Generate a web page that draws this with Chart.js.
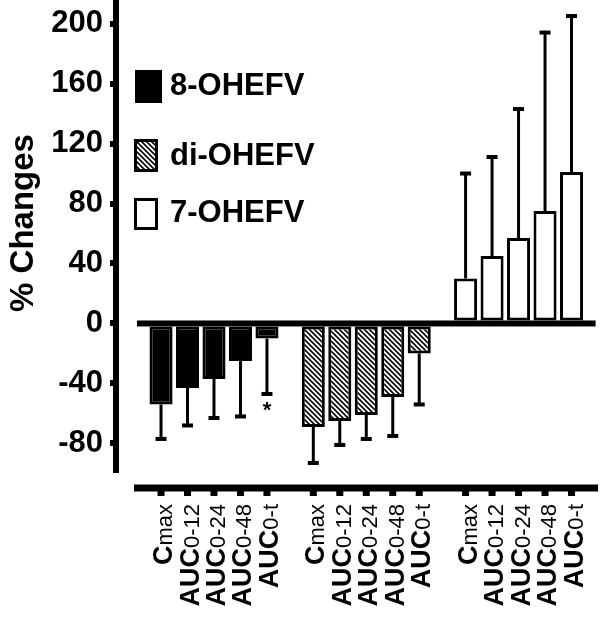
<!DOCTYPE html>
<html><head><meta charset="utf-8">
<script src="https://cdn.jsdelivr.net/npm/chart.js@4.4.1/dist/chart.umd.min.js"></script>
<style>html,body{margin:0;padding:0;background:#fff}canvas{display:block}</style>
</head><body>
<canvas id="c" width="600" height="618"></canvas>
<script>
// ---- data ----
const seriesNames = ['8-OHEFV', 'di-OHEFV', '7-OHEFV'];
const labelMain = ['C', 'AUC', 'AUC', 'AUC', 'AUC'];
const labelSub = ['max', '0-12', '0-24', '0-48', '0-t'];
const mean8 = [-54, -43, -37, -25, -10];
const sd8 = [23, 25, 26, 37, 37];
const meanDi = [-69, -65, -61, -49, -20];
const sdDi = [24, 16, 16, 26, 34];
const mean7 = [30, 45, 57, 75, 101];
const sd7 = [70, 66, 86, 119, 104];
const sig8 = ['', '', '', '', '*'];
const yTicks = [-80, -40, 0, 40, 80, 120, 160, 200];

// ---- layout / style ----
const FONT = '"Liberation Sans", Arial, Helvetica, sans-serif';
const GROUP_STEP = 5.75;

function makeHatch() {
  const c = document.createElement('canvas');
  c.width = 5; c.height = 5;
  const g = c.getContext('2d');
  g.fillStyle = '#fff'; g.fillRect(0, 0, 5, 5);
  g.strokeStyle = '#000'; g.lineWidth = 1.6;
  g.beginPath();
  g.moveTo(-1, -1); g.lineTo(6, 6);
  g.moveTo(-1, 4); g.lineTo(1, 6);
  g.moveTo(4, -1); g.lineTo(6, 1);
  g.stroke();
  return g.createPattern(c, 'repeat');
}
const hatch = makeHatch();

const groups = [
  { mean: mean8, sd: sd8, sig: sig8, fill: '#000' },
  { mean: meanDi, sd: sdDi, sig: null, fill: hatch },
  { mean: mean7, sd: sd7, sig: null, fill: '#fff' }
];

const datasets = groups.map((g, gi) => ({
  label: seriesNames[gi],
  data: g.mean.map((v, i) => ({ x: gi * GROUP_STEP + i, y: v })),
  backgroundColor: g.fill,
  borderColor: '#000',
  borderWidth: 3,
  borderSkipped: false,
  grouped: false,
  categoryPercentage: 1,
  barPercentage: 0.87
}));

const decor = {
  id: 'decor',
  afterDatasetsDraw(chart) {
    const ctx = chart.ctx;
    const xs = chart.scales.x, ys = chart.scales.y;
    ctx.save();
    // error bars
    groups.forEach((g, gi) => {
      const meta = chart.getDatasetMeta(gi);
      g.mean.forEach((v, i) => {
        const x = meta.data[i].x;
        const end = v < 0 ? v - g.sd[i] : v + g.sd[i];
        const y1 = ys.getPixelForValue(v), y2 = ys.getPixelForValue(end);
        ctx.strokeStyle = '#000'; ctx.lineWidth = 3;
        ctx.beginPath(); ctx.moveTo(x, y1); ctx.lineTo(x, y2); ctx.stroke();
        ctx.fillStyle = '#000';
        ctx.fillRect(x - 5.5, y2 - 2, 11, 4);
        if (g.sig && g.sig[i]) {
          ctx.font = 'bold 22px ' + FONT;
          ctx.textAlign = 'center'; ctx.textBaseline = 'alphabetic';
          ctx.fillText(g.sig[i], x, y2 + 23);
        }
      });
    });
    // zero line
    const y0 = ys.getPixelForValue(0);
    const zl = xs.getPixelForValue(-0.91), zr = xs.getPixelForValue(16.41);
    ctx.fillStyle = '#000';
    ctx.fillRect(zl, y0 - 3, zr - zl, 6);
    // x axis line
    const xa = chart.chartArea.bottom + 18;
    const al = xs.getPixelForValue(-1.02), ar = xs.getPixelForValue(16.5);
    ctx.fillRect(al, xa - 3.5, ar - al, 7);
    // ticks + labels
    groups.forEach((g, gi) => {
      const meta = chart.getDatasetMeta(gi);
      g.mean.forEach((v, i) => {
        const x = meta.data[i].x;
        ctx.fillStyle = '#000';
        ctx.fillRect(x - 3.5, xa + 3, 7, 5);
        ctx.save();
        ctx.translate(x, xa + 16);
        ctx.rotate(-Math.PI / 2);
        ctx.textBaseline = 'alphabetic';
        ctx.textAlign = 'left';
        const fMain = 'bold 27px ' + FONT, fSub = '22px ' + FONT;
        ctx.font = fMain; const wm = ctx.measureText(labelMain[i]).width;
        ctx.font = fSub; const ws = ctx.measureText(labelSub[i]).width;
        const W = wm + ws;
        ctx.font = fMain; ctx.fillText(labelMain[i], -W, 11);
        ctx.font = fSub; ctx.fillText(labelSub[i], -W + wm, 11);
        ctx.restore();
      });
    });
    ctx.restore();
  },
  afterDraw(chart) {
    const ctx = chart.ctx;
    ctx.save();
    // legend
    const boxes = [
      { x: 135, y: 70, w: 27, h: 33, ty: 86 },
      { x: 134, y: 139, w: 24, h: 33, ty: 156 },
      { x: 134, y: 198, w: 24, h: 32, ty: 213 }
    ];
    boxes.forEach((b, k) => {
      ctx.fillStyle = groups[k].fill;
      ctx.fillRect(b.x, b.y, b.w, b.h);
      ctx.strokeStyle = '#000'; ctx.lineWidth = 3;
      ctx.strokeRect(b.x + 1.5, b.y + 1.5, b.w - 3, b.h - 3);
      ctx.fillStyle = '#000';
      ctx.font = 'bold 31px ' + FONT;
      ctx.textAlign = 'left'; ctx.textBaseline = 'middle';
      ctx.fillText(seriesNames[k], 170, b.ty);
    });
    // y title
    ctx.translate(24, 223);
    ctx.rotate(-Math.PI / 2);
    ctx.font = 'bold 33px ' + FONT;
    ctx.textAlign = 'center'; ctx.textBaseline = 'middle';
    ctx.fillStyle = '#000';
    ctx.fillText('% Changes', 0, 0);
    ctx.restore();
  }
};

new Chart(document.getElementById('c'), {
  type: 'bar',
  data: { datasets },
  options: {
    responsive: false,
    animation: false,
    devicePixelRatio: 1,
    layout: { padding: { top: 3, bottom: 148, left: 0, right: 2 } },
    plugins: { legend: { display: false }, tooltip: { enabled: false } },
    scales: {
      x: { type: 'linear', min: -1.7, max: 16.5, offset: false, display: false },
      y: {
        min: -97.7, max: 213.7,
        afterBuildTicks: s => { s.ticks = yTicks.map(v => ({ value: v })); },
        afterFit: s => { s.width = 116; s.paddingTop = 0; s.paddingBottom = 0; },
        ticks: { color: '#000', font: { family: FONT, size: 31, weight: 'bold' }, padding: 7 },
        grid: { drawOnChartArea: false, drawTicks: true, tickLength: 6, tickWidth: 6, lineWidth: 6, color: '#000', tickColor: '#000' },
        border: { display: true, width: 6, color: '#000' }
      }
    }
  },
  plugins: [decor]
});
</script>
</body></html>
